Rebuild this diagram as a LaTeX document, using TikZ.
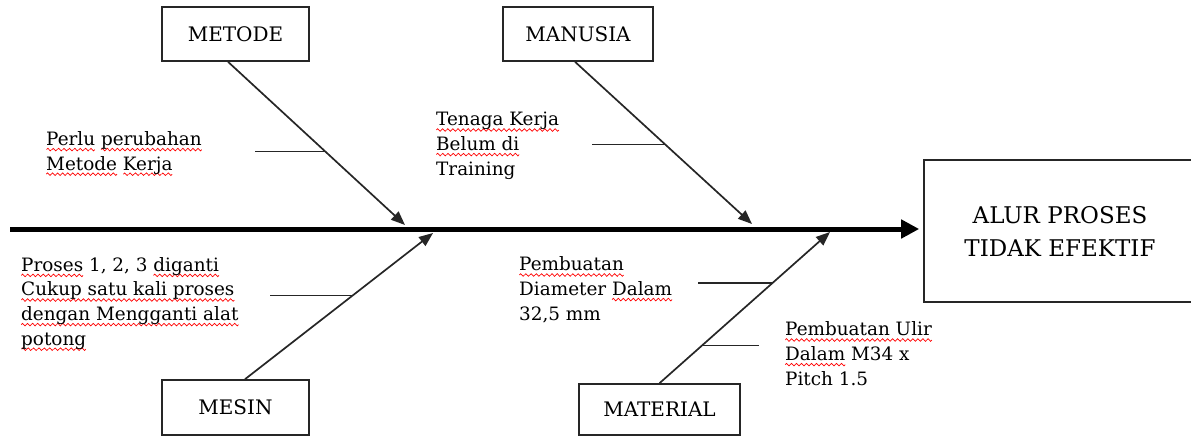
\documentclass[tikz,border=0pt]{standalone}
\usepackage{fontspec}
\setmainfont{DejaVu Serif}
\usetikzlibrary{arrows.meta,calc}
\newsavebox\wavebox
\newbox\sperrbox
\newcommand\sperr[1]{\setbox\sperrbox\hbox{#1}\rlap{\lower4.2pt\hbox to\wd\sperrbox{\xleaders\copy\wavebox\hfill}}\box\sperrbox}
\begin{document}
\sbox\wavebox{\begin{pgfpicture}%
\pgfpathrectangle{\pgfpoint{0pt}{-1.3pt}}{\pgfpoint{5pt}{2.6pt}}\pgfusepath{use as bounding box}%
\pgfsetbaseline{0pt}%
\pgfsetstrokecolor{red}\pgfsetlinewidth{0.7pt}%
\pgfpathmoveto{\pgfpoint{0pt}{0pt}}%
\pgfpathsine{\pgfpoint{1.25pt}{1.3pt}}%
\pgfpathcosine{\pgfpoint{1.25pt}{-1.3pt}}%
\pgfpathsine{\pgfpoint{1.25pt}{-1.3pt}}%
\pgfpathcosine{\pgfpoint{1.25pt}{1.3pt}}%
\pgfusepath{stroke}%
\end{pgfpicture}}%
\begin{tikzpicture}[x=1pt,y=-1pt,
  box/.style={draw=black!85,line width=1.6pt,inner sep=0,font=\fontsize{20}{24}\selectfont},
  bone/.style={draw=black!85,line width=1.7pt},
  twig/.style={draw=black!85,line width=1.4pt},
  cause/.style={inner sep=0,anchor=base west,align=left,font=\fontsize{18.4}{24.6}\selectfont},
  tip/.style={-{Triangle[length=14pt,width=11pt]}},
]
\clip (0,0) rectangle (1191,436);
% boxes
\node[box,minimum width=147pt,minimum height=54pt] (metode) at (235.5,34) {METODE};
\node[box,minimum width=150pt,minimum height=54pt] (manusia) at (578,34) {MANUSIA};
\node[box,minimum width=147pt,minimum height=55pt] (mesin) at (235.5,407.5) {MESIN};
\node[box,minimum width=161pt,minimum height=51pt] (material) at (659.5,409.5) {MATERIAL};
\node[box,minimum width=272pt,minimum height=142pt,align=center,font=\fontsize{23}{33}\selectfont] (effect) at (1060,231) {ALUR PROSES\\TIDAK EFEKTIF};
% spine
\coordinate (spine0) at (10,229);
\draw[line width=5pt,draw=black,-{Triangle[length=18pt,width=18pt]},shorten >=4pt] (spine0) -- (spine0 -| effect.west);
% bones
\coordinate (metodeTip) at (405,225);
\coordinate (manusiaTip) at (752,224);
\coordinate (mesinTip) at (433,233);
\coordinate (materialTip) at (830,232);
\draw[bone,tip] ($(metode.south)+(-7.5,0)$) -- (metodeTip) coordinate[pos=.549] (metodeJ);
\draw[bone,tip] ($(manusia.south)+(-3,0)$) -- (manusiaTip) coordinate[pos=.509] (manusiaJ);
\draw[bone,tip] ($(mesin.north)+(9.5,0)$) -- (mesinTip) coordinate[pos=.571] (mesinJ);
\draw[bone,tip] (material.north) -- (materialTip) coordinate[pos=.664] (materialJ) coordinate[pos=.25] (materialK);
% twigs
\draw[twig] (metodeJ) -- ++(-70,0);
\draw[twig] (manusiaJ) -- ++(-73,0);
\draw[twig] (mesinJ) -- ++(-82,0);
\draw[twig] (materialJ) -- ++(-75,0);
\draw[twig] (materialK) -- ++(57,0);
% causes (anchored at the baseline of the last line)
\node[cause] (c1) at (46,170) {\sperr{Perlu} \sperr{perubahan}\\ \sperr{Metode} \sperr{Kerja}};
\node[cause] (c2) at (436,175) {\sperr{Tenaga Kerja}\\ \sperr{Belum di}\\ Training};
\node[cause] (c3) at (21,345) {\sperr{Proses} 1, 2, 3 \sperr{diganti}\\ \sperr{Cukup satu kali proses}\\ \sperr{dengan Mengganti alat}\\ \sperr{potong}};
\node[cause] (c4) at (519,320) {\sperr{Pembuatan}\\ Diameter \sperr{Dalam}\\ 32,5 mm};
\node[cause] (c5) at (785,385) {\sperr{Pembuatan Ulir}\\ \sperr{Dalam} M34 x\\ Pitch 1.5};
\end{tikzpicture}
\end{document}
